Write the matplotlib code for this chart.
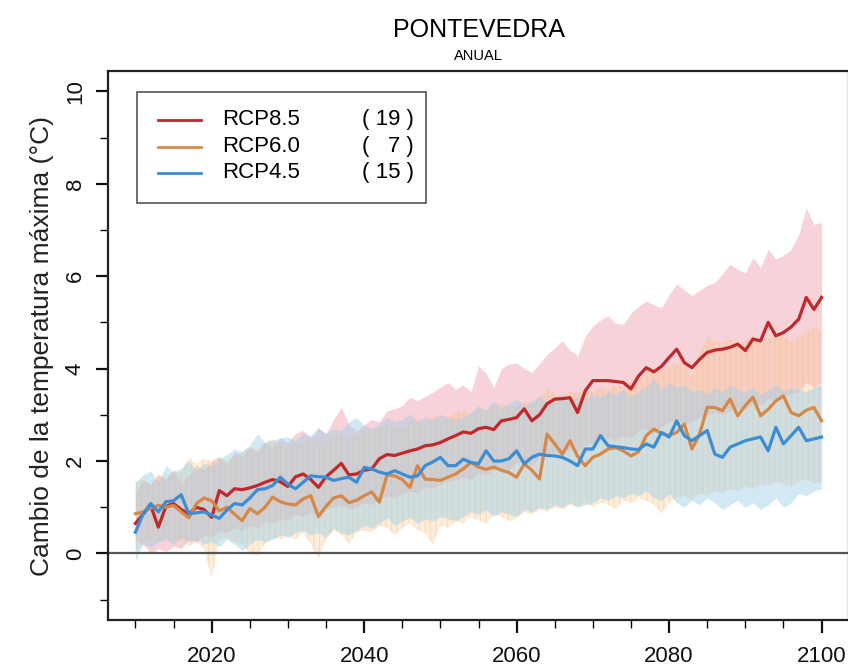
import numpy as np
import matplotlib.pyplot as plt
from matplotlib.lines import Line2D
from matplotlib.patches import Rectangle

plt.rcParams['font.family'] = ['Liberation Sans', 'DejaVu Sans']
plt.rcParams['hatch.linewidth'] = 0.6

years = np.arange(2010, 2101)

# RCP8.5 ensemble mean and spread
rcp85 = [0.65, 0.85, 1.04, 0.57, 1.02, 1.08, 0.95, 0.86, 1.00, 0.95,
         0.78, 1.36, 1.25, 1.40, 1.38, 1.42, 1.47, 1.54, 1.60, 1.55,
         1.45, 1.66, 1.72, 1.60, 1.43, 1.66, 1.80, 1.95, 1.70, 1.72,
         1.80, 1.83, 2.05, 2.14, 2.12, 2.17, 2.22, 2.26, 2.33, 2.35,
         2.40, 2.48, 2.55, 2.63, 2.60, 2.70, 2.73, 2.68, 2.87, 2.90,
         2.94, 3.13, 2.87, 3.00, 3.24, 3.34, 3.35, 3.37, 3.05, 3.52,
         3.74, 3.74, 3.74, 3.72, 3.70, 3.56, 3.84, 4.02, 3.93, 4.05,
         4.24, 4.42, 4.13, 4.02, 4.20, 4.35, 4.40, 4.42, 4.46, 4.53,
         4.39, 4.64, 4.60, 5.00, 4.71, 4.78, 4.90, 5.07, 5.54, 5.28,
         5.54]
rcp85_hi = [1.30, 1.60, 1.50, 1.70, 1.60, 1.80, 1.50, 1.70, 1.90, 1.80,
            2.00, 2.10, 1.90, 2.20, 2.10, 2.30, 2.20, 2.40, 2.30, 2.50,
            2.40, 2.60, 2.66, 2.50, 2.70, 2.60, 2.90, 3.16, 2.80, 2.65,
            2.79, 2.90, 2.85, 3.09, 3.13, 3.20, 3.38, 3.31, 3.40, 3.49,
            3.60, 3.70, 3.55, 3.65, 3.50, 4.06, 3.90, 3.59, 4.00, 4.10,
            4.12, 4.00, 3.92, 4.10, 4.31, 4.45, 4.60, 4.40, 4.28, 4.70,
            4.92, 5.05, 5.14, 4.98, 4.96, 5.20, 5.35, 5.46, 5.38, 5.32,
            5.60, 5.83, 5.70, 5.58, 5.70, 5.80, 5.86, 6.05, 6.26, 6.15,
            6.07, 6.40, 6.19, 6.58, 6.37, 6.45, 6.58, 6.90, 7.48, 7.12,
            7.16]
rcp85_lo = [0.30, 0.20, 0.00, 0.10, 0.05, 0.15, 0.10, 0.30, 0.25, 0.40,
            0.35, 0.50, 0.45, 0.55, 0.50, 0.60, 0.55, 0.70, 0.65, 0.75,
            0.70, 0.85, 0.80, 0.90, 0.75, 0.95, 1.00, 1.05, 0.95, 1.00,
            1.10, 1.05, 1.20, 1.25, 1.20, 1.30, 1.35, 1.30, 1.45, 1.40,
            1.50, 1.55, 1.60, 1.65, 1.60, 1.75, 1.70, 1.80, 1.85, 1.80,
            1.95, 2.00, 1.90, 2.05, 2.15, 2.20, 2.10, 2.25, 2.20, 2.35,
            2.40, 2.45, 2.50, 2.45, 2.55, 2.50, 2.65, 2.70, 2.60, 2.75,
            2.85, 2.90, 2.80, 2.85, 2.95, 3.00, 3.05, 3.00, 3.10, 3.15,
            3.10, 3.25, 3.20, 3.35, 3.30, 3.40, 3.45, 3.50, 3.70, 3.60,
            3.70]

# RCP6.0
rcp60 = [0.86, 0.90, 0.98, 1.04, 1.00, 1.04, 0.90, 0.77, 1.08, 1.20,
         1.14, 0.92, 1.00, 0.85, 0.71, 0.97, 0.86, 1.00, 1.22, 1.12,
         1.07, 1.05, 1.18, 1.25, 0.80, 1.02, 1.20, 1.25, 1.10, 1.15,
         1.25, 1.33, 1.11, 1.70, 1.68, 1.60, 1.43, 1.90, 1.61, 1.60,
         1.58, 1.65, 1.72, 1.83, 1.97, 1.87, 1.82, 1.87, 1.80, 1.75,
         1.65, 1.94, 1.80, 1.61, 2.58, 2.37, 2.15, 2.44, 2.10, 1.90,
         2.08, 2.15, 2.26, 2.29, 2.22, 2.11, 2.20, 2.55, 2.69, 2.60,
         2.55, 2.62, 2.80, 2.26, 2.58, 3.16, 3.16, 3.09, 3.34, 2.98,
         3.20, 3.38, 2.98, 3.12, 3.30, 3.41, 3.05, 2.98, 3.10, 3.16,
         2.87]
rcp60_hi = [1.55, 1.60, 1.50, 1.70, 1.65, 1.80, 1.75, 2.08, 1.95, 2.05,
            2.00, 2.08, 2.00, 2.10, 2.20, 2.30, 2.25, 2.40, 2.48, 2.35,
            2.30, 2.40, 2.35, 2.50, 2.40, 2.45, 2.55, 2.60, 2.50, 2.55,
            2.60, 2.65, 2.70, 2.80, 2.75, 2.70, 2.85, 2.90, 2.80, 2.95,
            3.00, 2.95, 3.05, 3.10, 3.00, 3.15, 3.10, 3.20, 3.25, 3.15,
            3.20, 3.30, 3.25, 3.35, 3.60, 3.45, 3.40, 3.50, 3.45, 3.55,
            3.50, 3.60, 3.55, 3.65, 3.60, 3.70, 3.75, 3.90, 4.00, 3.95,
            4.05, 4.10, 4.20, 3.80, 4.30, 4.68, 4.60, 4.55, 4.65, 4.50,
            4.60, 4.70, 4.55, 4.65, 4.75, 4.70, 4.60, 4.70, 4.80, 4.89,
            4.80]
rcp60_lo = [0.05, 0.20, 0.30, 0.25, 0.35, 0.20, 0.30, 0.15, 0.25, 0.10,
            -0.55, 0.30, 0.35, 0.25, 0.20, 0.00, -0.05, 0.20, 0.35, 0.30,
            0.40, 0.30, 0.45, 0.20, -0.12, 0.30, 0.50, 0.40, 0.20, 0.45,
            0.50, 0.45, 0.60, 0.55, 0.40, 0.55, 0.65, 0.50, 0.45, 0.20,
            0.60, 0.55, 0.70, 0.65, 0.80, 0.71, 0.65, 0.85, 0.80, 0.70,
            0.75, 0.90, 0.85, 0.95, 0.90, 1.00, 0.95, 1.05, 1.00, 1.10,
            1.00, 1.10, 1.05, 0.95, 1.15, 1.10, 1.20, 1.15, 1.05, 0.86,
            1.10, 1.20, 1.25, 1.15, 1.30, 1.25, 1.35, 1.30, 1.40, 1.35,
            1.45, 1.40, 1.50, 1.45, 1.55, 1.50, 1.45, 1.55, 1.60, 1.50,
            1.55]

# RCP4.5
rcp45 = [0.46, 0.85, 1.08, 0.90, 1.12, 1.14, 1.27, 0.86, 0.88, 0.90,
         0.83, 0.76, 0.94, 1.08, 1.05, 1.20, 1.38, 1.40, 1.47, 1.65,
         1.50, 1.40, 1.54, 1.68, 1.66, 1.65, 1.58, 1.62, 1.65, 1.54,
         1.86, 1.83, 1.76, 1.72, 1.79, 1.72, 1.65, 1.68, 1.90, 1.98,
         2.08, 1.90, 1.90, 2.04, 1.97, 1.94, 2.22, 2.00, 2.00, 2.05,
         2.22, 1.94, 2.08, 2.15, 2.12, 2.11, 2.08, 2.00, 1.90, 2.26,
         2.26, 2.55, 2.33, 2.31, 2.29, 2.26, 2.25, 2.37, 2.30, 2.62,
         2.52, 2.87, 2.55, 2.44, 2.55, 2.66, 2.15, 2.08, 2.30, 2.37,
         2.44, 2.48, 2.52, 2.22, 2.73, 2.37, 2.55, 2.73, 2.44, 2.48,
         2.52]
rcp45_hi = [1.54, 1.70, 1.79, 1.54, 1.90, 1.75, 1.85, 2.00, 1.80, 1.95,
            1.90, 2.05, 2.15, 2.26, 2.20, 2.35, 2.59, 2.40, 2.45, 2.50,
            2.52, 2.45, 2.60, 2.55, 2.73, 2.60, 2.70, 2.65, 2.85, 2.94,
            2.77, 2.70, 2.80, 2.94, 2.85, 2.90, 3.02, 2.85, 2.95, 2.90,
            3.00, 2.95, 2.90, 2.94, 3.05, 3.20, 3.10, 3.30, 3.15, 3.25,
            3.35, 3.20, 3.30, 3.40, 3.25, 3.35, 3.45, 3.30, 3.40, 3.35,
            3.45, 3.40, 3.50, 3.45, 3.55, 3.40, 3.50, 3.60, 3.80, 3.55,
            3.70, 3.60, 3.65, 3.50, 3.55, 3.45, 3.60, 3.50, 3.65, 3.55,
            3.50, 3.60, 3.45, 3.55, 3.65, 3.50, 3.60, 3.55, 3.50, 3.60,
            3.65]
rcp45_lo = [-0.15, 0.20, 0.14, 0.25, 0.30, 0.20, 0.35, 0.25, 0.30, 0.20,
            0.25, 0.15, 0.30, 0.20, 0.06, 0.20, 0.30, 0.25, 0.30, 0.40,
            0.35, 0.45, 0.50, 0.40, 0.45, 0.35, 0.55, 0.45, 0.40, 0.50,
            0.60, 0.55, 0.65, 0.78, 0.60, 0.70, 0.78, 0.65, 0.75, 0.70,
            0.80, 0.75, 0.71, 0.80, 0.90, 0.85, 0.95, 0.80, 0.90, 0.85,
            0.80, 0.95, 0.90, 1.00, 0.95, 1.05, 1.00, 1.10, 1.00, 1.05,
            1.10, 1.20, 1.15, 1.25, 1.20, 1.30, 1.25, 1.35, 1.20, 1.15,
            1.30, 1.10, 1.00, 1.15, 1.05, 1.20, 1.10, 0.95, 1.05, 1.15,
            1.00, 1.10, 0.95, 1.05, 1.20, 1.00, 1.10, 1.30, 1.25, 1.35,
            1.40]

labels = ['RCP8.5', 'RCP6.0', 'RCP4.5']
n_models = [19, 7, 15]
line_colors = ['#c0282c', '#d68848', '#3b8ed4']

fig = plt.figure(figsize=(8.48, 6.66), dpi=100)
ax = fig.add_axes([108 / 848, 1 - 620 / 666, 741 / 848, 549 / 666])

ax.fill_between(years, rcp85_lo, rcp85_hi, color='#f4aebb', alpha=0.55, lw=0)
ax.fill_between(years, rcp60_lo, rcp60_hi, facecolor='#f9c996', alpha=0.35,
                edgecolor='#f3b06a', hatch='|||', lw=0)
ax.fill_between(years, rcp45_lo, rcp45_hi, color='#9dcfe8', alpha=0.45, lw=0)

ax.axhline(0, color='#555555', lw=1.6)

ax.plot(years, rcp85, color=line_colors[0], lw=2.3)
ax.plot(years, rcp60, color=line_colors[1], lw=2.3)
ax.plot(years, rcp45, color=line_colors[2], lw=2.3)

ax.set_xlim(2006.4, 2103.6)
ax.set_ylim(-1.44, 10.44)
ax.set_xticks(range(2020, 2101, 20))
ax.set_xticks(range(2010, 2101, 5), minor=True)
ax.set_yticks(range(0, 11, 2))
ax.set_yticks(range(-1, 10, 2), minor=True)
ax.tick_params(axis='both', which='major', length=9, width=1.6, labelsize=16, colors='#111111')
ax.tick_params(axis='both', which='minor', length=6, width=1.0)
ax.tick_params(axis='x', pad=10)
ax.tick_params(axis='y', pad=7)
for t in ax.get_yticklabels():
    t.set_rotation(90)
    t.set_va('center')
for s in ax.spines.values():
    s.set_linewidth(1.6)
    s.set_color('#222222')

ax.set_ylabel('Cambio de la temperatura máxima (°C)', fontsize=19, labelpad=8, color='#222222')

fig.text(0.5645, 1 - 30 / 666, 'PONTEVEDRA', ha='center', va='center', fontsize=18)
fig.text(0.5645, 1 - 56 / 666, 'ANUAL', ha='center', va='center', fontsize=10.5)

# legend box drawn in axes coordinates
ax.add_patch(Rectangle((0.039, 0.7596), 0.39, 0.202, transform=ax.transAxes,
                       facecolor='white', edgecolor='#555555', lw=1.2, zorder=5))
rows = [0.911, 0.862, 0.815]
for lab, n, c, yy in zip(labels, n_models, line_colors, rows):
    ax.add_line(Line2D([0.0675, 0.1255], [yy, yy], transform=ax.transAxes,
                       color=c, lw=2, zorder=6))
    ax.text(0.154, yy, lab, transform=ax.transAxes, va='center', fontsize=16, zorder=6)
    ax.text(0.413, yy, '( %2d )' % n if n >= 10 else '(   %d )' % n,
            transform=ax.transAxes, va='center', ha='right', fontsize=16, zorder=6)

fig.savefig('out.png', dpi=100)
